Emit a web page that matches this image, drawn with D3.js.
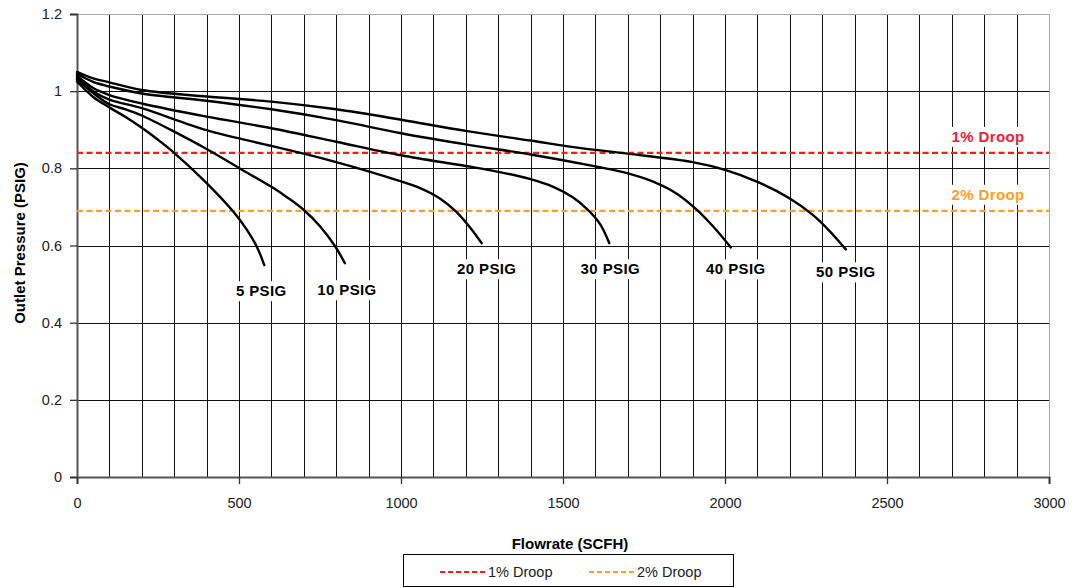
<!DOCTYPE html>
<html>
<head>
<meta charset="utf-8">
<script src="https://cdn.jsdelivr.net/npm/d3@7"></script>
<style>
  html, body { margin: 0; padding: 0; background: #fff; }
  svg { display: block; font-family: "Liberation Sans", Arial, sans-serif; }
</style>
</head>
<body>
<svg id="chart" width="1085" height="588"></svg>
<script>
// ---------- data ----------
const xTicks = [0, 500, 1000, 1500, 2000, 2500, 3000];
const yTicks = [0, 0.2, 0.4, 0.6, 0.8, 1, 1.2];
const seriesNames = ["5 PSIG", "10 PSIG", "20 PSIG", "30 PSIG", "40 PSIG", "50 PSIG"];

const psig5  = [[0,1.025],[50,0.985],[100,0.958],[150,0.933],[200,0.905],[250,0.874],[290,0.847],[390,0.770],[482,0.688],[525,0.640],[555,0.597],[578,0.549]];
const psig10 = [[0,1.030],[50,0.995],[100,0.966],[150,0.953],[200,0.937],[300,0.895],[400,0.850],[500,0.801],[600,0.752],[650,0.724],[700,0.692],[750,0.650],[795,0.600],[827,0.554]];
const psig20 = [[0,1.035],[50,1.000],[100,0.978],[200,0.956],[400,0.899],[600,0.858],[700,0.838],[800,0.816],[900,0.792],[1000,0.766],[1050,0.752],[1120,0.722],[1170,0.688],[1215,0.645],[1249,0.606]];
const psig30 = [[0,1.040],[50,1.008],[100,0.990],[200,0.968],[400,0.934],[600,0.904],[800,0.869],[1000,0.834],[1200,0.806],[1300,0.791],[1400,0.772],[1470,0.752],[1530,0.725],[1580,0.690],[1615,0.655],[1643,0.606]];
const psig40 = [[0,1.045],[50,1.024],[100,1.012],[200,0.994],[400,0.975],[600,0.953],[800,0.925],[1000,0.891],[1200,0.862],[1400,0.836],[1600,0.805],[1700,0.787],[1780,0.765],[1850,0.735],[1910,0.695],[1965,0.648],[2018,0.595]];
const psig50 = [[0,1.050],[50,1.033],[100,1.023],[200,1.003],[400,0.986],[600,0.973],[800,0.953],[1000,0.926],[1200,0.897],[1400,0.872],[1550,0.853],[1700,0.838],[1900,0.816],[2000,0.796],[2100,0.765],[2200,0.722],[2270,0.680],[2320,0.640],[2373,0.590]];
const seriesData = [psig5, psig10, psig20, psig30, psig40, psig50];

const droopNames = ["1% Droop", "2% Droop"];
const droopValues = [0.84, 0.69];
const droopColors = ["#ff1a1a", "#ffa020"];
const droopLabelColors = ["#f0203a", "#ffa020"];

// ---------- layout ----------
const svg = d3.select("#chart");
const x = d3.scaleLinear().domain([0, 3000]).range([77, 1049]);
const y = d3.scaleLinear().domain([0, 1.2]).range([477, 14]);
const FONT = '"Liberation Sans", Arial, sans-serif';

// grid
const grid = svg.append("g").attr("shape-rendering", "crispEdges");
grid.selectAll("line.v").data(d3.range(100, 3000, 100)).join("line")
  .attr("x1", d => Math.round(x(d)) + 0.5).attr("x2", d => Math.round(x(d)) + 0.5)
  .attr("y1", y(1.2)).attr("y2", y(0))
  .attr("stroke", "#111").attr("stroke-width", 1);
grid.selectAll("line.h").data(yTicks.filter(v => v > 0 && v < 1.2)).join("line")
  .attr("x1", x(0)).attr("x2", x(3000))
  .attr("y1", d => Math.round(y(d)) + 0.5).attr("y2", d => Math.round(y(d)) + 0.5)
  .attr("stroke", "#111").attr("stroke-width", 1);
// top & right border (grey)
grid.append("line").attr("x1", x(0)).attr("x2", x(3000)).attr("y1", Math.round(y(1.2)) + 0.5).attr("y2", Math.round(y(1.2)) + 0.5)
  .attr("stroke", "#a8a8a8").attr("stroke-width", 1.2);
grid.append("line").attr("x1", Math.round(x(3000)) + 0.5).attr("x2", Math.round(x(3000)) + 0.5).attr("y1", y(1.2)).attr("y2", y(0))
  .attr("stroke", "#a8a8a8").attr("stroke-width", 1.5);

// axes
const yAxis = d3.axisLeft(y).tickValues(yTicks).tickSize(7).tickPadding(8)
  .tickFormat(d => d3.format("")(+d.toFixed(1)));
const gy = svg.append("g").attr("transform", `translate(${x(0)},0)`).call(yAxis);
const xAxis = d3.axisBottom(x).tickValues(xTicks).tickSize(7).tickPadding(14).tickFormat(d3.format("d"));
const gx = svg.append("g").attr("transform", `translate(0,${y(0)})`).call(xAxis);
[gx, gy].forEach(g => {
  g.select(".domain").attr("stroke", "#555").attr("stroke-width", 2);
  g.selectAll(".tick line").attr("stroke", "#333").attr("stroke-width", 1.3);
  g.selectAll(".tick text").attr("fill", "#222").style("font-family", FONT).style("font-size", "14.5px");
});

// droop lines
svg.selectAll("line.droop").data(droopValues).join("line")
  .attr("x1", x(0)).attr("x2", x(3000))
  .attr("y1", d => y(d)).attr("y2", d => y(d))
  .attr("stroke", (d, i) => droopColors[i]).attr("stroke-width", 2.3)
  .attr("stroke-dasharray", "6,3.5");

// curves
const line = d3.line().x(d => x(d[0])).y(d => y(d[1])).curve(d3.curveCatmullRom.alpha(0.5));
svg.selectAll("path.curve").data(seriesData).join("path")
  .attr("d", line).attr("fill", "none").attr("stroke", "#000").attr("stroke-width", 2.4)
  .attr("stroke-linecap", "round");

// label helper with white background
function bgLabel(g, tx, ty, txt, color, size) {
  const grp = g.append("g");
  const rect = grp.append("rect").attr("fill", "#fff");
  const t = grp.append("text").attr("x", tx).attr("y", ty).attr("text-anchor", "middle")
    .attr("fill", color).style("font-family", FONT).style("font-weight", "bold")
    .style("font-size", size + "px").style("letter-spacing", "0.4px").text(txt);
  const b = t.node().getBBox();
  rect.attr("x", b.x - 5).attr("y", b.y - 1).attr("width", b.width + 10).attr("height", b.height + 3);
}

// curve labels below each curve end
const labelDy = [31, 32, 31, 31, 27, 28];
const labelDx = [-3, 2, 5, 1, 5, 0];
const labG = svg.append("g");
seriesData.forEach((s, i) => {
  const end = s[s.length - 1];
  bgLabel(labG, x(end[0]) + labelDx[i], y(end[1]) + labelDy[i], seriesNames[i], "#000", 15);
});

// droop labels
droopValues.forEach((v, i) => {
  bgLabel(labG, x(2812), y(v) - 11, droopNames[i], droopLabelColors[i], 15);
});

// axis titles
svg.append("text").attr("x", 570).attr("y", 549).attr("text-anchor", "middle")
  .style("font-family", FONT).style("font-weight", "bold").style("font-size", "15px").attr("fill", "#000")
  .text("Flowrate (SCFH)");
svg.append("text").attr("transform", "translate(25,243) rotate(-90)").attr("text-anchor", "middle")
  .style("font-family", FONT).style("font-weight", "bold").style("font-size", "15px").attr("fill", "#000")
  .text("Outlet Pressure (PSIG)");

// legend
const lg = svg.append("g");
lg.append("rect").attr("x", 403.5).attr("y", 554.5).attr("width", 330).attr("height", 32)
  .attr("fill", "#fff").attr("stroke", "#000").attr("stroke-width", 1);
const legendX = [440, 589];
droopNames.forEach((n, i) => {
  lg.append("line").attr("x1", legendX[i]).attr("x2", legendX[i] + 46).attr("y1", 572).attr("y2", 572)
    .attr("stroke", droopColors[i]).attr("stroke-width", 2).attr("stroke-dasharray", "5,3");
  lg.append("text").attr("x", legendX[i] + 48).attr("y", 577).style("font-family", FONT)
    .style("font-size", "14.5px").attr("fill", "#222").text(n);
});
</script>
</body>
</html>
